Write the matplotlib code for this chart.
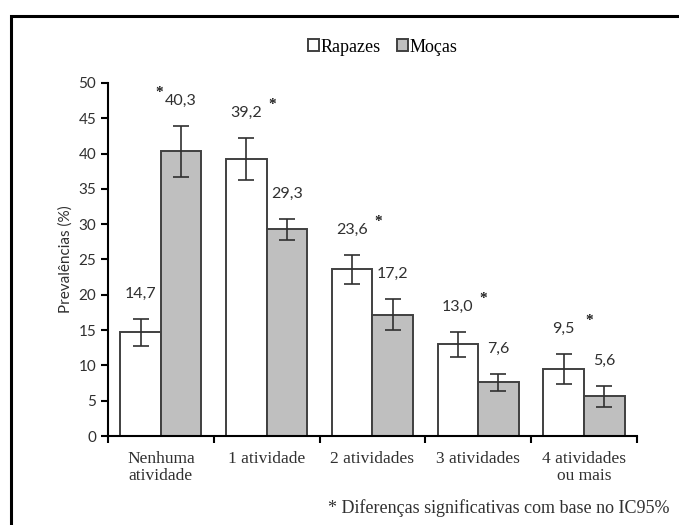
import numpy as np
import matplotlib.pyplot as plt
from matplotlib.patches import Rectangle

categorias = ['Nenhuma\natividade', '1 atividade', '2 atividades', '3 atividades', '4 atividades\nou mais']
rapazes = [14.7, 39.2, 23.6, 13.0, 9.5]
mocas = [40.3, 29.3, 17.2, 7.6, 5.6]
erro_rapazes = [1.9, 3.0, 2.1, 1.8, 2.1]
erro_mocas = [3.6, 1.5, 2.2, 1.2, 1.5]
significativo = [True, True, True, True, True]

serif = 'Liberation Serif'
sans = 'Lato'

fig = plt.figure(figsize=(6.79, 5.25), dpi=100)
ax = fig.add_axes([0.159, 0.1695, 0.779, 0.6725])

# moldura da figura
fig.patches.append(Rectangle((11 / 679, -0.01), 1.0, 1 - 16 / 525 + 0.01,
                             transform=fig.transFigure, fill=False,
                             edgecolor='black', linewidth=2.2, clip_on=False))

x = np.arange(len(categorias))
w = 0.383
b1 = ax.bar(x - w / 2, rapazes, w, color='white', edgecolor='#404040', linewidth=1.4,
            label='Rapazes')
b2 = ax.bar(x + w / 2, mocas, w, color='#bfbfbf', edgecolor='#404040', linewidth=1.4,
            label='Moças')
ax.errorbar(x - w / 2, rapazes, yerr=erro_rapazes, fmt='none', ecolor='#303030',
            elinewidth=1.2, capsize=6, capthick=1.2)
ax.errorbar(x + w / 2, mocas, yerr=erro_mocas, fmt='none', ecolor='#303030',
            elinewidth=1.2, capsize=6, capthick=1.2)

# rótulos dos valores
for i in range(len(categorias)):
    for xpos, v, e in [(x[i] - w / 2, rapazes[i], erro_rapazes[i]),
                       (x[i] + w / 2, mocas[i], erro_mocas[i])]:
        ax.text(xpos, v + e + 3.5, f'{v:.1f}'.replace('.', ','), ha='center', va='center',
                fontsize=11.5, family=sans, color='#303030')
    if significativo[i]:
        top = max(rapazes[i] + erro_rapazes[i], mocas[i] + erro_mocas[i]) + 3.5
        dx = -0.02 if i == 0 else 0.05
        ax.text(x[i] + dx, top + 1.2, '*', ha='center', va='center', fontsize=11,
                family=serif, color='#202020', fontweight='bold')

ax.set_xlim(-0.5, len(categorias) - 0.5)
ax.set_ylim(0, 50)
ax.set_yticks(range(0, 51, 5))
ax.set_xticks(np.arange(len(categorias) + 1) - 0.5, minor=False)
ax.set_xticklabels([])
ax.set_xticks(x, minor=True)
ax.set_xticklabels(categorias, minor=True, family=serif, fontsize=12.5, color='#303030',
                   linespacing=1.05)
ax.tick_params(axis='x', which='minor', length=0, pad=11)
ax.tick_params(axis='x', which='major', length=5, width=1.5, direction='out')
ax.tick_params(axis='y', length=5, width=1.5, direction='out', labelsize=11, labelcolor='#303030')
for lab in ax.get_yticklabels():
    lab.set_family(sans)
for s in ['top', 'right']:
    ax.spines[s].set_visible(False)
for s in ['left', 'bottom']:
    ax.spines[s].set_linewidth(1.5)
ax.set_ylabel('Prevalências (%)', family=sans, fontsize=11, color='#303030', labelpad=4)

leg = fig.legend(handles=[b1, b2], loc='center', bbox_to_anchor=(383 / 679, 1 - 47 / 525),
                 ncol=2, frameon=False, handlelength=0.6, handleheight=0.6,
                 handletextpad=0.1, columnspacing=0.9,
                 prop={'family': serif, 'size': 13})

fig.text(670 / 679, 1 - 508 / 525, '* Diferenças significativas com base no IC95%',
         ha='right', va='center', family=serif, fontsize=13, color='#303030')

fig.savefig('out.png', dpi=100)
